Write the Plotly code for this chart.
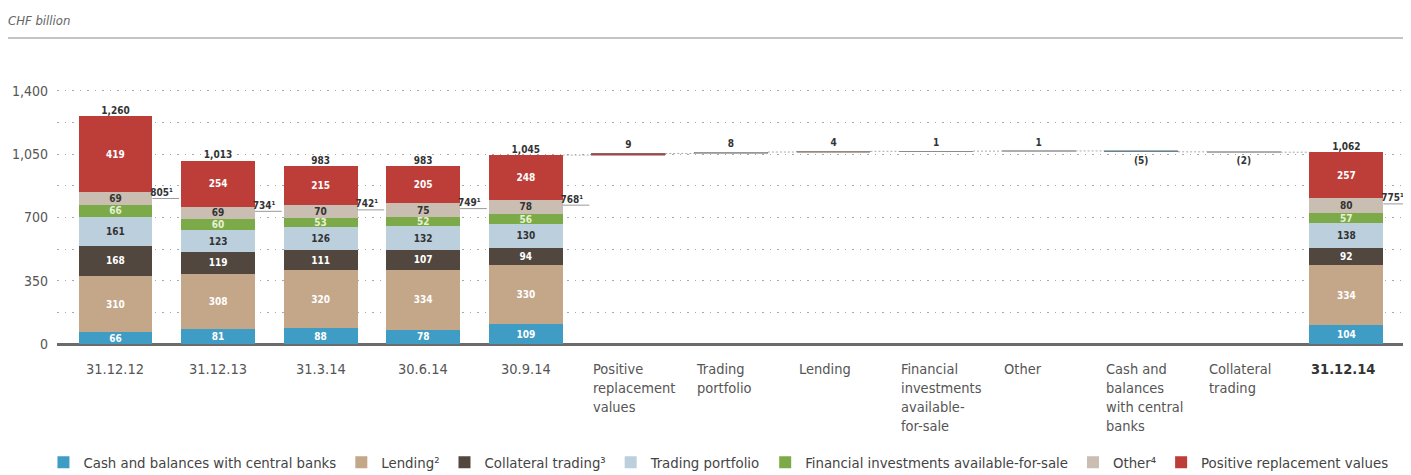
import plotly.graph_objects as go

# categories along the x axis (index = position)
categories = ["31.12.12", "31.12.13", "31.3.14", "30.6.14", "30.9.14",
              "Positive<br>replacement<br>values", "Trading<br>portfolio", "Lending",
              "Financial<br>investments<br>available-<br>for-sale", "Other",
              "Cash and<br>balances<br>with central<br>banks", "Collateral<br>trading",
              "<b>31.12.14</b>"]

# stacked balance sheet bars (CHF billion)
stack_pos = [0, 1, 2, 3, 4, 12]
cash = [66, 81, 88, 78, 109, 104]
lending = [310, 308, 320, 334, 330, 334]
collateral = [168, 119, 111, 107, 94, 92]
trading = [161, 123, 126, 132, 130, 138]
fin_afs = [66, 60, 53, 52, 56, 57]
other = [69, 69, 70, 75, 78, 80]
prv = [419, 254, 215, 205, 248, 257]
totals = [1260, 1013, 983, 983, 1045, 1062]
excl_prv = [805, 734, 742, 749, 768, 775]   # footnote 1 values

# waterfall 30.9.14 -> 31.12.14
wf_pos = [5, 6, 7, 8, 9, 10, 11]
wf_start = 1045
wf_changes = [9, 8, 4, 1, 1, -5, -2]
wf_labels = ["9", "8", "4", "1", "1", "(5)", "(2)"]

FONT = "DejaVu Sans Condensed, Liberation Sans Narrow, Roboto Condensed, Open Sans, sans-serif"
BAR_W = 0.72

colors = {
    "cash": "#3f9cc4",
    "lending": "#c4a689",
    "collateral": "#51473f",
    "trading": "#bccfdd",
    "fin_afs": "#7caa48",
    "other": "#c9beb1",
    "prv": "#bd3d39",
}

series = [
    ("Cash and balances with central banks", cash, colors["cash"], "white"),
    ("Lending²", lending, colors["lending"], "white"),
    ("Collateral trading³", collateral, colors["collateral"], "white"),
    ("Trading portfolio", trading, colors["trading"], "#333333"),
    ("Financial investments available-for-sale", fin_afs, colors["fin_afs"], "#e6f2d4"),
    ("Other⁴", other, colors["other"], "#333333"),
    ("Positive replacement values", prv, colors["prv"], "white"),
]

fig = go.Figure()

for name, vals, col, tcol in series:
    fig.add_trace(go.Bar(x=stack_pos, y=vals, name=name, width=BAR_W,
                         marker=dict(color=col, line_width=0),
                         text=[str(v) for v in vals], textposition="inside",
                         insidetextanchor="middle", textangle=0, constraintext="none",
                         textfont=dict(family=FONT, size=10, color=tcol, weight="bold")))

# waterfall floating bars (drawn in overlay because base is set)
wf_colors = [colors["prv"], colors["trading"], colors["lending"], colors["fin_afs"],
             colors["other"], colors["cash"], colors["collateral"]]
wf_base = []
level = wf_start
for ch in wf_changes:
    wf_base.append(level)
    level += ch
fig.add_trace(go.Bar(x=wf_pos, y=wf_changes, base=wf_base, width=BAR_W, showlegend=False,
                     marker=dict(color=wf_colors, line=dict(color="#777777", width=0.6)),
                     text=wf_labels, textposition="outside", textangle=0,
                     constraintext="none", cliponaxis=False,
                     textfont=dict(family=FONT, size=10, color="#333333", weight="bold")))

# connectors between waterfall steps
cx, cy = [], []
levels = [wf_start] + [b + c for b, c in zip(wf_base, wf_changes)]
for i, lv in zip([4] + wf_pos, levels):
    cx += [i + BAR_W / 2, i + 1 - BAR_W / 2, None]
    cy += [lv, lv, None]
fig.add_trace(go.Scatter(x=cx, y=cy, mode="lines", showlegend=False, hoverinfo="skip",
                         line=dict(color="#aaaaaa", width=1, dash="2px,2px")))

# totals above bars
fig.add_trace(go.Scatter(x=stack_pos, y=totals, mode="text", showlegend=False,
                         text=[f"{v:,}" for v in totals], textposition="top center",
                         cliponaxis=False,
                         textfont=dict(family=FONT, size=10, color="#333333", weight="bold")))

# footnote 1 markers to the right of each bar
fx, fy = [], []
for i, v in zip(stack_pos, excl_prv):
    fx += [i + BAR_W / 2, i + 0.62, None]
    fy += [v, v, None]
fig.add_trace(go.Scatter(x=fx, y=fy, mode="lines", showlegend=False, hoverinfo="skip",
                         line=dict(color="#999999", width=1)))
fig.add_trace(go.Scatter(x=[i + 0.45 for i in stack_pos], y=excl_prv, mode="text",
                         showlegend=False, text=[f"{v}¹" for v in excl_prv],
                         textposition="top center", cliponaxis=False,
                         textfont=dict(family=FONT, size=10, color="#333333", weight="bold")))

# category labels below the axis
for i, c in enumerate(categories):
    if i < 5:
        fig.add_annotation(x=i, y=0, yref="paper", text=c, showarrow=False,
                           xanchor="center", yanchor="top", yshift=-15,
                           font=dict(family=FONT, size=14.5, color="#555555"))
    else:
        fig.add_annotation(x=i - BAR_W / 2, y=0, yref="paper", text=c, showarrow=False,
                           xanchor="left", yanchor="top", yshift=-15, align="left",
                           font=dict(family=FONT, size=14.5,
                                     color="#333333" if i == 12 else "#555555"))

# rule under the unit label
fig.add_shape(type="line", xref="paper", yref="paper", x0=-0.0362, x1=1,
              y0=1.0851, y1=1.0851, line=dict(color="#b0b0b0", width=1.5))

# the page body adds an 8px offset, so the figure is 8px smaller than the window
fig.update_layout(
    width=1403, height=467,
    margin=dict(l=49, r=0, t=54, b=131, autoexpand=False),
    barmode="stack",
    plot_bgcolor="white", paper_bgcolor="white",
    font=dict(family=FONT, color="#555555"),
    title=dict(text="CHF billion", xref="container", yref="container",
               x=0, y=1 - 12 / 467, xanchor="left", yanchor="middle",
               font=dict(family=FONT, size=13, color="#666666", style="italic")),
    showlegend=True,
    legend=dict(orientation="h", x=-0.010, xanchor="left", y=-0.362, yanchor="top",
                traceorder="normal", font=dict(family=FONT, size=14.8, color="#444444")),
)
fig.update_xaxes(range=[-0.57, 12.63], showticklabels=False, showgrid=False,
                 zeroline=False, ticks="")
fig.update_yaxes(range=[0, 1560], tickvals=[0, 350, 700, 1050, 1400], tickformat=",",
                 showgrid=True, griddash="1.5px,6px", gridcolor="#a8a8a8", gridwidth=1,
                 minor=dict(tickvals=[175, 525, 875, 1225], showgrid=True,
                            griddash="1.5px,6px", gridcolor="#a8a8a8", gridwidth=1),
                 zeroline=True, zerolinecolor="#6b6b6b", zerolinewidth=3,
                 ticklabelstandoff=8,
                 tickfont=dict(family=FONT, size=14, color="#555555"))

fig.write_html("out.html")
